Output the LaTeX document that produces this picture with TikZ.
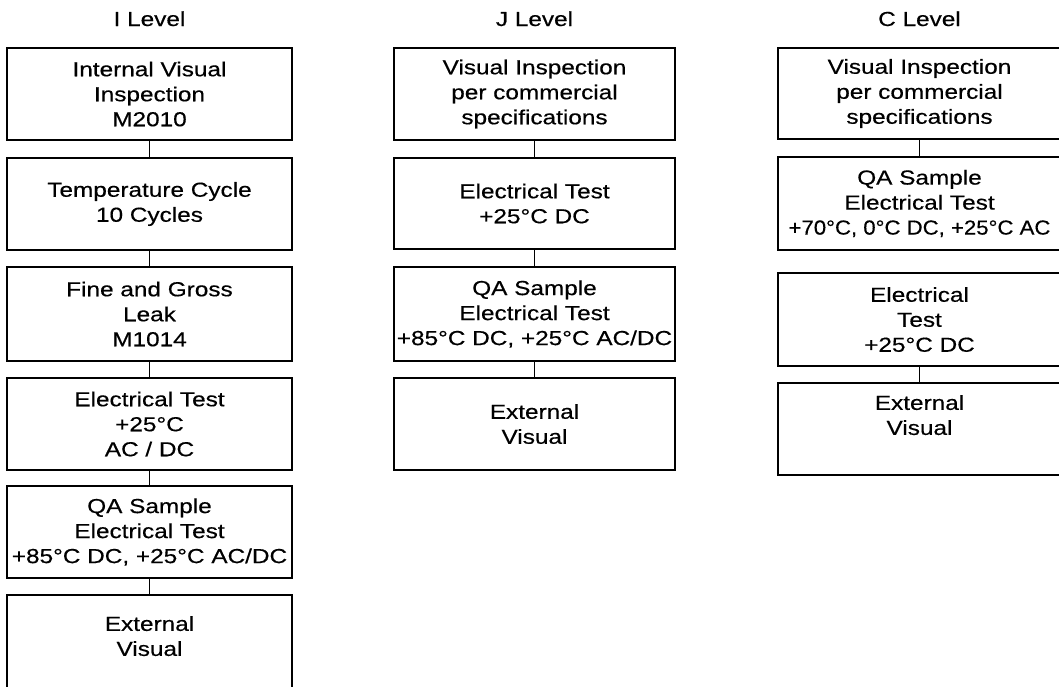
\documentclass[tikz,border=0pt]{standalone}
\usepackage{fontspec}
\setmainfont[FakeStretch=1.2,FakeBold=0.4]{Liberation Sans}
\begin{document}
\begin{tikzpicture}[x=1pt,y=-1pt,
  stagebox/.style={draw=black,line width=1.8pt,rectangle,align=center,inner sep=0pt,
     font=\fontsize{20.3}{25}\selectfont},
  colI/.style={stagebox,minimum width=285pt},
  colJ/.style={stagebox,minimum width=281pt},
  colC/.style={stagebox,minimum width=283pt},
  title/.style={font=\fontsize{20.3}{25}\selectfont,anchor=base},
  link/.style={line width=1.8pt}]
\useasboundingbox (0,0) rectangle (1059,686);
\clip (0,0) rectangle (1059,686);
\fill[white] (0,0) rectangle (1059,686);
% titles
\node[title] (tI) at (149.5,26) {I Level};
\node[title] (tJ) at (534.5,26) {J Level};
\node[title] (tC) at (919.5,26) {C Level};
% I column
\node[colI,minimum height=92pt] (i1) at (149.5,94) {Internal Visual\\Inspection\\M2010};
\node[colI,minimum height=92pt] (i2) at (149.5,204) {Temperature Cycle\\10 Cycles};
\node[colI,minimum height=94pt] (i3) at (149.5,314) {Fine and Gross\\Leak\\M1014};
\node[colI,minimum height=92pt] (i4) at (149.5,424) {Electrical Test\\+25°C\\AC / DC};
\node[colI,minimum height=92pt] (i5) at (149.5,532) {QA Sample\\Electrical Test\\+85°C DC, +25°C AC/DC};
\node[colI,minimum height=93pt,text depth=11pt] (i6) at (149.5,641.5) {External\\Visual};
\draw[link] (i1.south) -- (i2.north);
\draw[link] (i2.south) -- (i3.north);
\draw[link] (i3.south) -- (i4.north);
\draw[link] (i4.south) -- (i5.north);
\draw[link] (i5.south) -- (i6.north);
% J column
\node[colJ,minimum height=92pt] (j1) at (534.5,94) {Visual Inspection\\per commercial\\specifications};
\node[colJ,minimum height=91pt] (j2) at (534.5,203.5) {Electrical Test\\+25°C DC};
\node[colJ,minimum height=94pt] (j3) at (534.5,314) {QA Sample\\Electrical Test\\+85°C DC, +25°C AC/DC};
\node[colJ,minimum height=92pt] (j4) at (534.5,424) {External\\Visual};
\draw[link] (j1.south) -- (j2.north);
\draw[link] (j2.south) -- (j3.north);
\draw[link] (j3.south) -- (j4.north);
% C column
\node[colC,minimum height=91pt] (c1) at (919.5,93.5) {Visual Inspection\\per commercial\\specifications};
\node[colC,minimum height=93pt] (c2) at (919.5,203.5) {QA Sample\\Electrical Test\\\scalebox{0.91}[1]{+70°C, 0°C DC, +25°C AC}};
\node[colC,minimum height=93pt] (c3) at (919.5,319.5) {Electrical\\Test\\+25°C DC};
\node[colC,minimum height=92pt,text depth=28pt] (c4) at (919.5,429) {External\\Visual};
\draw[link] (c1.south) -- (c2.north);
\draw[link] (c3.south) -- (c4.north);
\end{tikzpicture}
\end{document}
